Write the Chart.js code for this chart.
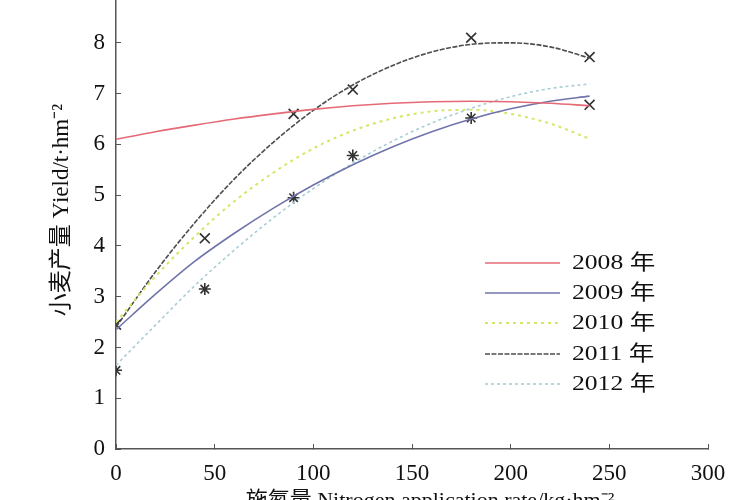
<!DOCTYPE html>
<html>
<head>
<meta charset="utf-8">
<script src="https://cdn.jsdelivr.net/npm/chart.js@4.4.1/dist/chart.umd.min.js"></script>
<style>
    html, body { margin: 0; padding: 0; background: #fff; overflow: hidden; }
    #wrap { position: absolute; left: 0; top: -8px; width: 750px; height: 538px; }
</style>
</head>
<body>
<div id="wrap"><canvas id="yieldChart"></canvas></div>
<script>
// N rates (kg/hm2)
const nRates = [0, 20, 40, 60, 80, 100, 120, 140, 160, 180, 200, 220, 240];

// Yield curves (t/hm2)
const yield2008 = [6.1, 6.25, 6.38, 6.5, 6.6, 6.69, 6.76, 6.81, 6.84, 6.85, 6.84, 6.81, 6.76];
const yield2009 = [2.35, 3.05, 3.7, 4.25, 4.75, 5.2, 5.6, 5.95, 6.25, 6.5, 6.7, 6.85, 6.95];
const yield2010 = [2.5, 3.4, 4.19, 4.88, 5.45, 5.92, 6.27, 6.51, 6.65, 6.68, 6.6, 6.41, 6.11];
const yield2011 = [2.4, 3.49, 4.46, 5.32, 6.05, 6.67, 7.17, 7.55, 7.82, 7.97, 8.0, 7.92, 7.7];
const yield2012 = [1.65, 2.44, 3.22, 3.92, 4.56, 5.13, 5.63, 6.06, 6.42, 6.71, 6.94, 7.1, 7.19];

const yearLabels = ['2008 年', '2009 年', '2010 年', '2011 年', '2012 年'];

// measured points (markers)
const crossX = [0, 45, 90, 120, 180, 240, 240];
const crossY = [2.45, 4.15, 6.6, 7.08, 8.1, 7.72, 6.78];
const starX = [0, 45, 90, 120, 180];
const starY = [1.55, 3.15, 4.95, 5.78, 6.52];

const xTicks = [0, 50, 100, 150, 200, 250, 300];

const xTitle = '施氮量 Nitrogen application rate/kg·hm⁻²';
const yTitle = '小麦产量 Yield/t·hm⁻²';

const toPoints = (xs, ys) => xs.map((x, i) => ({ x: x, y: ys[i] }));

const serif = "'Liberation Serif', 'Noto Sans CJK SC', serif";
const SHIFT = 8; // canvas sits 8px above the window

const lineStyles = [
    { color: '#e56a76', dash: [], width: 1.6 },
    { color: '#7074aa', dash: [], width: 1.6 },
    { color: '#d6e566', dash: [3, 4], width: 2 },
    { color: '#4d4d4d', dash: [5, 1.5], width: 1.6 },
    { color: '#a7cdd6', dash: [3, 3], width: 1.6 }
];

const curves = [yield2008, yield2009, yield2010, yield2011, yield2012];

const datasets = curves.map((ys, i) => ({
    label: yearLabels[i],
    data: toPoints(nRates, ys),
    borderColor: lineStyles[i].color,
    borderDash: lineStyles[i].dash,
    borderWidth: lineStyles[i].width,
    pointRadius: 0,
    fill: false,
    cubicInterpolationMode: 'monotone'
}));

datasets.push({
    label: 'cross',
    data: toPoints(crossX, crossY),
    showLine: false,
    pointStyle: 'crossRot',
    pointRadius: 7,
    borderColor: '#333',
    pointBorderWidth: 1.7
});
datasets.push({
    label: 'star',
    data: toPoints(starX, starY),
    showLine: false,
    pointStyle: 'star',
    pointRadius: 6,
    borderColor: '#333',
    pointBorderWidth: 1.6
});

// legend inside the plot + axis titles
const insideLegend = {
    id: 'insideLegend',
    afterDraw(chart) {
        const ctx = chart.ctx;
        const x0 = 485, x1 = 560, rowY = [263, 293, 323, 354, 384];
        ctx.save();
        for (let i = 0; i < 5; i++) {
            const y = rowY[i] + SHIFT;
            ctx.beginPath();
            ctx.setLineDash(lineStyles[i].dash);
            ctx.lineWidth = lineStyles[i].width;
            ctx.strokeStyle = lineStyles[i].color;
            ctx.moveTo(x0, y);
            ctx.lineTo(x1, y);
            ctx.stroke();
            ctx.setLineDash([]);
            ctx.save();
            ctx.translate(572, y);
            ctx.scale(1.22, 1);
            ctx.fillStyle = '#111';
            ctx.font = "21px " + serif;
            ctx.textBaseline = 'middle';
            ctx.fillText(yearLabels[i], 0, 0);
            ctx.restore();
        }
        // y title
        ctx.save();
        ctx.translate(62, 210 + SHIFT);
        ctx.rotate(-Math.PI / 2);
        ctx.fillStyle = '#111';
        ctx.font = "23px " + serif;
        ctx.textAlign = 'center';
        ctx.textBaseline = 'middle';
        ctx.fillText(yTitle, 0, 0);
        ctx.restore();
        // x title
        ctx.fillStyle = '#111';
        ctx.font = "22px " + serif;
        ctx.textAlign = 'center';
        ctx.textBaseline = 'middle';
        ctx.fillText(xTitle, 430, 501 + SHIFT);
        ctx.restore();
    }
};

new Chart(document.getElementById('yieldChart'), {
    type: 'line',
    data: { datasets: datasets },
    plugins: [insideLegend],
    options: {
        responsive: true,
        maintainAspectRatio: false,
        animation: false,
        layout: { padding: { left: 0, right: 42, top: 0, bottom: 0 } },
        plugins: {
            legend: { display: false },
            tooltip: { enabled: false }
        },
        scales: {
            x: {
                type: 'linear',
                min: 0,
                max: 300,
                afterBuildTicks: (scale) => { scale.ticks = xTicks.map(v => ({ value: v })); },
                afterFit: (scale) => { scale.height = 81; },
                border: { color: '#555', width: 1.5 },
                grid: { drawOnChartArea: false, tickLength: -5, color: '#555' },
                ticks: { color: '#111', padding: 16, font: { family: serif, size: 23 } }
            },
            y: {
                min: 0,
                max: 8.83,
                afterFit: (scale) => { scale.width = 116; scale.paddingTop = 0; scale.paddingBottom = 0; },
                border: { color: '#555', width: 1.5 },
                grid: { drawOnChartArea: false, tickLength: -5, color: '#555' },
                ticks: { stepSize: 1, includeBounds: false, color: '#111', padding: 16, font: { family: serif, size: 23 } }
            }
        }
    }
});
</script>
</body>
</html>
